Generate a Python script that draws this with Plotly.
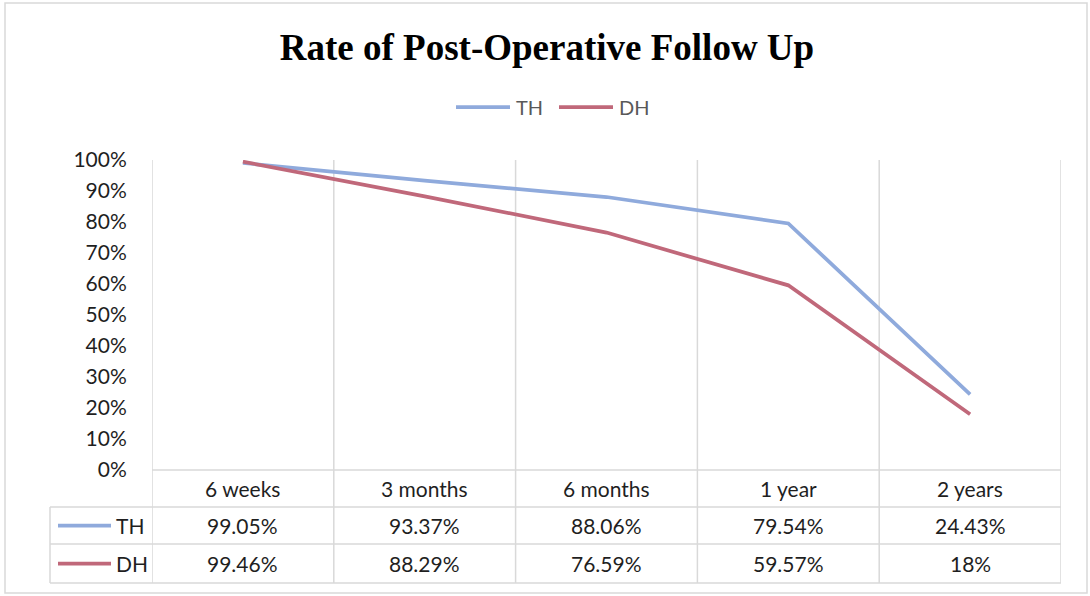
import plotly.graph_objects as go

categories = ["6 weeks", "3 months", "6 months", "1 year", "2 years"]
series_names = ["TH", "DH"]
th_values = [0.9905, 0.9337, 0.8806, 0.7954, 0.2443]
dh_values = [0.9946, 0.8829, 0.7659, 0.5957, 0.18]
th_labels = ["99.05%", "93.37%", "88.06%", "79.54%", "24.43%"]
dh_labels = ["99.46%", "88.29%", "76.59%", "59.57%", "18%"]
colors = ["#8FAADC", "#C0687A"]

W, H = 1090, 596
L, R, T, B = 152, 1061, 160, 470
PW, PH = R - L, B - T


def px(p):
    return (p - L) / PW


def py(p):
    return (B - p) / PH


GRID = "#D9D9D9"
TEXT = "#1F1F1F"
FONT = "Lato, 'Open Sans', sans-serif"
FS = 21

fig = go.Figure()
xs = list(range(len(categories)))
for name, vals, col in zip(series_names, [th_values, dh_values], colors):
    fig.add_trace(go.Scatter(x=xs, y=vals, mode="lines", name=name,
                             showlegend=False,
                             line=dict(color=col, width=3.75)))

shapes = []
annotations = []
# outer border
shapes.append(dict(type="rect", xref="paper", yref="paper",
                   x0=px(5), x1=px(1087), y0=py(593), y1=py(3),
                   line=dict(color=GRID, width=1.5), layer="below"))
# vertical category boundaries
for i in range(len(categories) + 1):
    shapes.append(dict(type="line", xref="x", yref="paper",
                       x0=i - 0.5, x1=i - 0.5, y0=py(583), y1=py(T),
                       line=dict(color=GRID, width=1.5), layer="below"))
# horizontal table lines
row_lines = [507, 544, 583]
shapes.append(dict(type="line", xref="paper", yref="paper",
                   x0=0, x1=1, y0=0, y1=0, line=dict(color=GRID, width=1.5)))
for yl in row_lines:
    shapes.append(dict(type="line", xref="paper", yref="paper",
                       x0=px(50), x1=1, y0=py(yl), y1=py(yl),
                       line=dict(color=GRID, width=1.5)))
shapes.append(dict(type="line", xref="paper", yref="paper",
                   x0=px(50), x1=px(50), y0=py(583), y1=py(507),
                   line=dict(color=GRID, width=1.5)))

row_centers = [488.5, 525.5, 563.5]
for i, c in enumerate(categories):
    annotations.append(dict(x=i, xref="x", y=py(row_centers[0]), yref="paper",
                            text=c, showarrow=False, xanchor="center", yanchor="middle",
                            font=dict(size=FS, color=TEXT, family=FONT)))
for r, (name, labels, col) in enumerate(zip(series_names, [th_labels, dh_labels], colors)):
    yc = row_centers[r + 1]
    for i, t in enumerate(labels):
        annotations.append(dict(x=i, xref="x", y=py(yc), yref="paper",
                                text=t, showarrow=False, xanchor="center", yanchor="middle",
                                font=dict(size=FS, color=TEXT, family=FONT)))
    shapes.append(dict(type="line", xref="paper", yref="paper",
                       x0=px(58), x1=px(111), y0=py(yc), y1=py(yc),
                       line=dict(color=col, width=3.75)))
    annotations.append(dict(x=px(114), xref="paper", y=py(yc), yref="paper",
                            text=name, showarrow=False, xanchor="left", yanchor="middle",
                            font=dict(size=FS, color=TEXT, family=FONT)))

# top legend
legend_pos = [(456, 510, 514), (559, 613, 617)]
for (x0, x1, xt), name, col in zip(legend_pos, series_names, colors):
    shapes.append(dict(type="line", xref="paper", yref="paper",
                       x0=px(x0), x1=px(x1), y0=py(107), y1=py(107),
                       line=dict(color=col, width=3.75)))
    annotations.append(dict(x=px(xt), xref="paper", y=py(107), yref="paper",
                            text=name, showarrow=False, xanchor="left", yanchor="middle",
                            font=dict(size=20, color="#595959", family=FONT)))

fig.update_layout(
    width=W, height=H,
    margin=dict(l=L, r=W - R, t=T, b=H - B),
    paper_bgcolor="white", plot_bgcolor="white",
    showlegend=False,
    title=dict(text="<b>Rate of Post-Operative Follow Up</b>",
               xref="container", x=547 / W, xanchor="center",
               yref="container", y=1 - 47 / H, yanchor="middle",
               font=dict(family="'Liberation Serif', 'Times New Roman', serif",
                         size=37, color="#000000")),
    xaxis=dict(range=[-0.5, 4.5], showgrid=False, zeroline=False,
               showticklabels=False, showline=False, fixedrange=True),
    yaxis=dict(range=[0, 1], dtick=0.1, tickformat=".0%", showgrid=False,
               zeroline=False, showline=False, ticks="outside", ticklen=20,
               tickcolor="rgba(0,0,0,0)",
               tickfont=dict(size=FS, color=TEXT, family=FONT)),
    shapes=shapes,
    annotations=annotations,
)

fig.write_html("out.html", config={"displayModeBar": False},
               post_script="document.body.style.margin='0px';")
